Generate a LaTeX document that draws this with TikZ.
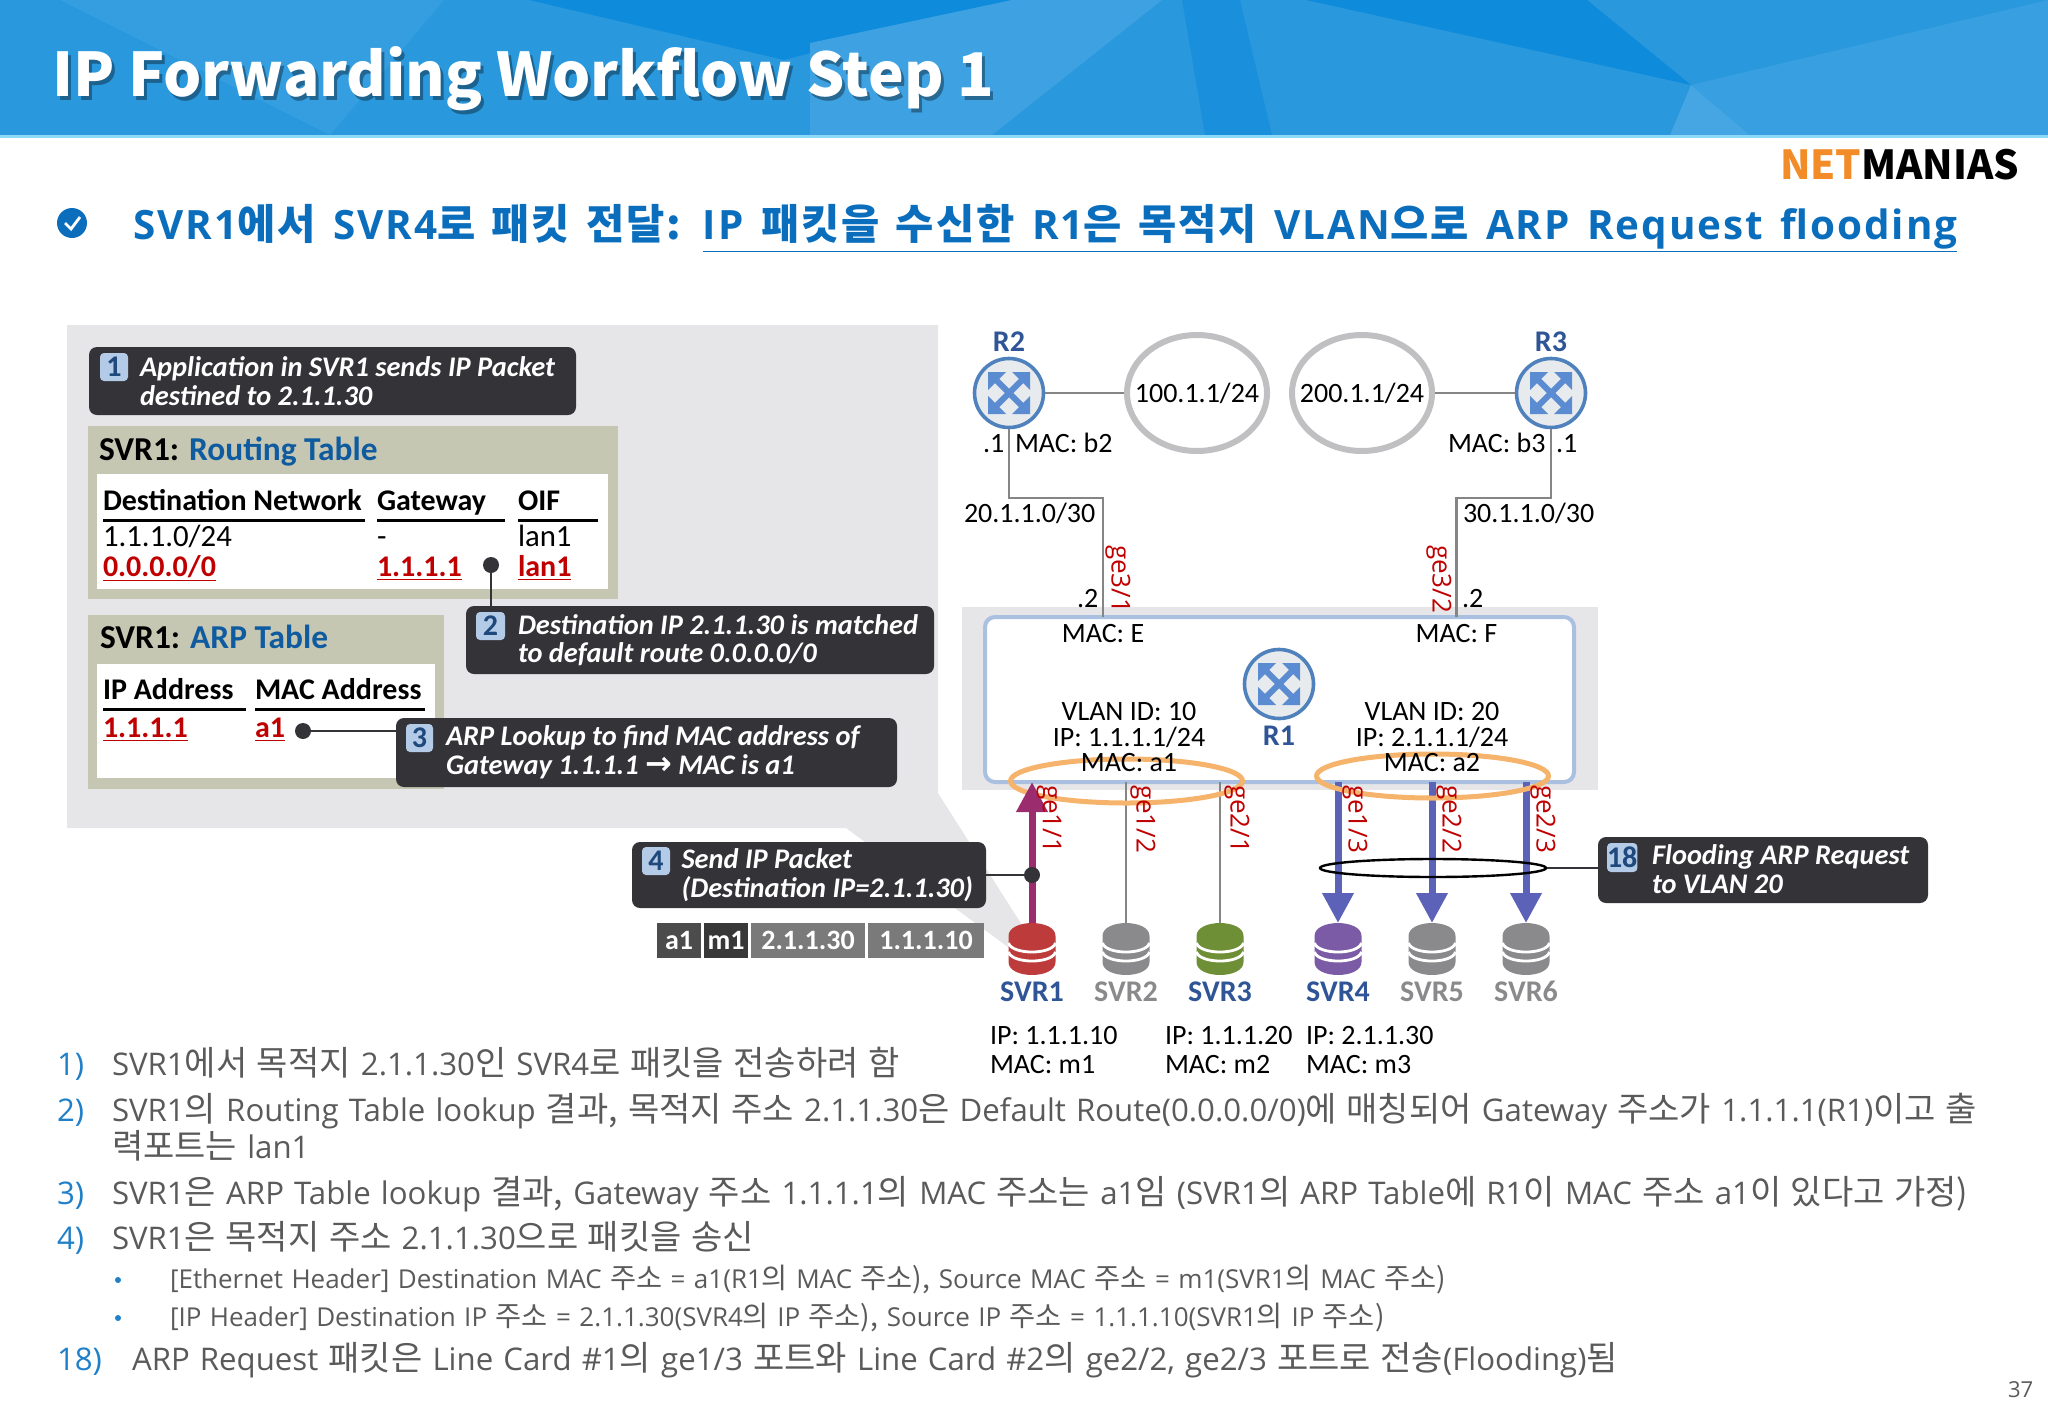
\documentclass[tikz,border=0pt]{standalone}
\usepackage{fontspec}
\setmainfont{Carlito}
\newfontfamily\bodyfont[WordSpace=1.25]{Open Sans}
\newfontfamily\krfont[Scale=1.09, WordSpace=1.25]{Noto Sans CJK KR}
\newfontfamily\titlefont{Noto Sans CJK KR}
\newfontfamily\headfont[LetterSpace=4.8, WordSpace=1.4]{Open Sans}
\newfontfamily\headkrfont[Scale=1.03, LetterSpace=4.8, WordSpace=1.4]{Noto Sans CJK KR}
\newfontfamily\symfont{DejaVu Sans}
\newcommand{\kr}[1]{{\krfont #1}}
\newcommand{\hkr}[1]{{\headkrfont #1}}
\usetikzlibrary{shapes.geometric, arrows.meta, positioning, math, calc}

\definecolor{barBlue}{HTML}{2A98DD}
\definecolor{barDark}{HTML}{0F8BDC}
\definecolor{barLight}{HTML}{46A6E4}
\definecolor{headBlue}{HTML}{0A6EBD}
\definecolor{panelGray}{HTML}{E6E6E8}
\definecolor{tableBack}{HTML}{C6C7B2}
\definecolor{boxDark}{HTML}{333338}
\definecolor{badgeBlue}{HTML}{B4CBE8}
\definecolor{badgeText}{HTML}{1F497D}
\definecolor{titleBlue}{HTML}{0F5BA0}
\definecolor{portRed}{HTML}{C00000}
\definecolor{linkGray}{HTML}{858585}
\definecolor{ringGray}{HTML}{C0C0C2}
\definecolor{ringOrange}{HTML}{F5B36B}
\definecolor{r1Line}{HTML}{A9C0E0}
\definecolor{routerBlue}{HTML}{4F81BD}
\definecolor{routerFill}{HTML}{E8EBEE}
\definecolor{routerMark}{HTML}{5B8BD0}
\definecolor{upPurple}{HTML}{9B2D6F}
\definecolor{downBlue}{HTML}{5B62B8}
\definecolor{labelBlue}{HTML}{2F5597}
\definecolor{svrRed}{HTML}{BE3B3B}
\definecolor{svrGray}{HTML}{8A8A8C}
\definecolor{svrGreen}{HTML}{6E8F35}
\definecolor{svrPurple}{HTML}{7B5BA6}
\definecolor{bodyGray}{HTML}{5A5A5A}
\definecolor{bodyBlue}{HTML}{1F7FC8}
\definecolor{logoOrange}{HTML}{F28C28}

\newcommand{\serverIcon}[2]{
	\begin{scope}[shift={(#1.center)}]
		\fill[#2] (-23.5,-13) .. controls (-23.5,-30.3) and (23.5,-30.3) .. (23.5,-13)
			-- (23.5,13) .. controls (23.5,30.3) and (-23.5,30.3) .. (-23.5,13) -- cycle;
		\draw[white, line width=1.4pt] (-23.5,-6) .. controls (-20,6) and (20,6) .. (23.5,-6);
		\draw[white, line width=1.4pt] (-23.5,3) .. controls (-20,15) and (20,15) .. (23.5,3);
	\end{scope}
}
\newcommand{\routerIcon}[1]{
	\begin{scope}[shift={(#1.center)}]
		\draw[routerMark, line width=3pt] (-14,-14) -- (14,14);
		\draw[routerMark, line width=3pt] (-14,14) -- (14,-14);
		\fill[routerMark] (-21,-21) -- (-3,-21) -- (-21,-3) -- cycle;
		\fill[routerMark] (21,-21) -- (3,-21) -- (21,-3) -- cycle;
		\fill[routerMark] (-21,21) -- (-3,21) -- (-21,3) -- cycle;
		\fill[routerMark] (21,21) -- (3,21) -- (21,3) -- cycle;
	\end{scope}
}

\begin{document}
\begin{tikzpicture}[x=0.5pt, y=-0.5pt]
	\tikzmath{
		\svrGap   = 23.5; %gap between server nodes
		\svrGroup = 35.5; %gap between svr3 and svr4
		\cellGap  = 1.5;  %gap between packet cells
	}
	\tikzstyle{Txt}       = [inner sep=0, outer sep=0, anchor=base west]
	\tikzstyle{Lbl}       = [Txt, font=\fontsize{14}{12.75}\selectfont]
	\tikzstyle{TableHead} = [Txt, font=\fontsize{15}{16}\selectfont\bfseries]
	\tikzstyle{TableRow}  = [Txt, font=\fontsize{15.4}{16}\selectfont]
	\tikzstyle{TableHit}  = [Txt, font=\fontsize{15}{16}\selectfont\bfseries, text=portRed]
	\tikzstyle{TableName} = [Txt, font=\fontsize{16.7}{18}\selectfont\bfseries]
	\tikzstyle{TableRule} = [line width=1.5pt]
	\tikzstyle{CallOut}   = [fill=boxDark, rounded corners=4pt, anchor=north west, inner sep=0, outer sep=0]
	\tikzstyle{Badge}     = [fill=badgeBlue, rounded corners=2pt, anchor=north west, inner sep=0, outer sep=0,
		text=badgeText, font=\fontsize{15}{16}\selectfont\bfseries]
	\tikzstyle{CallText}  = [inner sep=0, outer sep=0, anchor=west, align=left, text=white,
		font=\fontsize{14.2}{14.25}\selectfont\bfseries\itshape]
	\tikzstyle{Dot}       = [circle, fill=boxDark, minimum size=8pt, inner sep=0]
	\tikzstyle{CallLine}  = [boxDark, line width=1.2pt]
	\tikzstyle{Link}      = [linkGray, line width=1.2pt]
	\tikzstyle{Cloud}     = [ellipse, draw=ringGray, line width=3pt, minimum width=70pt, minimum height=58pt, inner sep=0]
	\tikzstyle{CloudText} = [inner sep=0, font=\fontsize{14}{16}\selectfont]
	\tikzstyle{RouterNode}= [circle, draw=routerBlue, fill=routerFill, line width=1.8pt, minimum size=34.5pt, inner sep=0]
	\tikzstyle{RouterName}= [inner sep=0, anchor=base, text=labelBlue, font=\fontsize{15}{16}\selectfont\bfseries]
	\tikzstyle{Ring}      = [ellipse, draw=ringOrange, line width=2.5pt, minimum width=116pt, minimum height=22pt, inner sep=0]
	\tikzstyle{Port}      = [inner sep=0, outer sep=0, anchor=west, rotate=-90, text=portRed,
		font=\bodyfont\fontsize{13}{14}\selectfont]
	\tikzstyle{ServerNode}= [minimum width=23.5pt, minimum height=26pt, inner sep=0, outer sep=0]
	\tikzstyle{ServerName}= [inner sep=0, anchor=base, font=\fontsize{15}{16}\selectfont\bfseries]
	\tikzstyle{UpArrow}   = [upPurple, line width=3.5pt, -{Triangle[width=15pt, length=15pt]}]
	\tikzstyle{DownArrow} = [downBlue, line width=3.5pt, -{Triangle[width=15pt, length=15pt]}]
	\tikzstyle{PortLine}  = [linkGray, line width=1pt]
	\tikzstyle{Cell}      = [minimum height=17.5pt, inner sep=0, outer sep=0, text=white, font=\fontsize{14}{16}\selectfont\bfseries]
	\tikzstyle{Body}      = [Txt, text=bodyGray, font=\bodyfont\fontsize{15.6}{16}\selectfont]
	\tikzstyle{BodySmall} = [Txt, text=bodyGray, font=\bodyfont\fontsize{13}{16}\selectfont]
	\tikzstyle{BodyNum}   = [Txt, text=bodyBlue, font=\bodyfont\fontsize{15.6}{16}\selectfont]
	\tikzstyle{Bullet}    = [circle, fill=bodyBlue, minimum size=3pt, inner sep=0]

	\useasboundingbox (0,0) rectangle (2048,1418);

	%%%%%%%%%%%%%%%%%%%%%%%%%%===---TITLE BAR---===%%%%%%%%%%%%%%%%%%%%%%%%%%
	\fill[barBlue]  (0,0) rectangle (2048,135);
	\fill[barDark]  (529,0) -- (1012,0) -- (784,60) -- cycle;
	\fill[barLight!70!barBlue] (1012,0) -- (1162,0) -- (992,135) -- (810,135) -- (810,43) -- cycle;
	\fill[barDark!60!barBlue] (1182,0) -- (1240,0) -- (1272,135) -- (1205,135) -- cycle;
	\fill[barDark]  (1306,0) -- (1587,0) -- (1691,85) -- cycle;
	\fill[barLight] (1691,85) -- (1670,135) -- (1750,135) -- cycle;
	\fill[barLight!50!barBlue] (1691,85) -- (2048,0) -- (2048,135) -- (1750,135) -- cycle;
	\fill[barLight!40!barBlue] (60,0) -- (444,0) -- (330,135) -- cycle;
	\fill[cyan!45!white] (0,135) rectangle (2048,138);
	\node (titleShadow) [Txt, text=black, opacity=.35, font=\titlefont\fontsize{30.1}{34}\selectfont\bfseries] at (55,100) {IP Forwarding Workflow Step 1};
	\node (title) [Txt, text=white, font=\titlefont\fontsize{30.1}{34}\selectfont\bfseries] at (52,97) {IP Forwarding Workflow Step 1};

	\node (logoNet) [Txt, text=logoOrange, font=\titlefont\fontsize{20}{24}\selectfont\bfseries] at (1780,179) {NET};
	\node (logoRest) [Txt, font=\titlefont\fontsize{20}{24}\selectfont\bfseries, right = 0mm of logoNet.base east, anchor=base west] {MANIAS};

	\node (checkIcon) [circle, fill=headBlue, minimum size=15pt, inner sep=0] at (72,223) {};
	\draw[white, line width=1.4pt] ($(checkIcon)+(-7,0)$) -- ($(checkIcon)+(-1,6)$) -- ($(checkIcon)+(8,-6)$);
	\node (heading) [Txt, text=headBlue, font=\headfont\fontsize{20.2}{22}\selectfont\bfseries] at (133,239)
		{SVR1\hkr{에서} SVR4\hkr{로 패킷 전달:} \underline{IP \hkr{패킷을 수신한} R1\hkr{은 목적지} VLAN\hkr{으로} ARP Request flooding}};

	%%%%%%%%%%%%%%%%%%%%%%%%%%===---LEFT PANEL---===%%%%%%%%%%%%%%%%%%%%%%%%%%
	\fill[panelGray] (67,325) -- (938,325) -- (938,793) -- (1022,925) -- (1012,950) -- (846,828) -- (67,828) -- cycle;

	\node (box1) [CallOut, minimum width=243.5pt, minimum height=34pt] at (89,347) {};
	\node (badge1) [Badge, minimum width=14pt, minimum height=14pt] at (100,353) {1};
	\node (text1) [CallText] at (140,381) {Application in SVR1 sends IP Packet\\destined to 2.1.1.30};

	%routing table
	\node (routeBox) [anchor=north west, fill=tableBack, minimum width=265pt, minimum height=86.5pt, inner sep=0] at (88,426) {};
	\node (routeWhite) [anchor=north west, fill=white, minimum width=255.5pt, minimum height=57.5pt, inner sep=0] at (97,474) {};
	\node (routeName) [TableName] at (99,460) {SVR1: \textcolor{titleBlue}{Routing Table}};
	\node (destHead) [TableHead] at (103,510) {Destination Network};
	\node (gateHead) [TableHead] at (377,510) {Gateway};
	\node (oifHead)  [TableHead] at (518,510) {OIF};
	\coordinate (destRuleL) at (103,520);
	\coordinate (destRuleR) at (365,520);
	\coordinate (gateRuleL) at (377,520);
	\coordinate (gateRuleR) at (505,520);
	\coordinate (oifRuleL)  at (518,520);
	\coordinate (oifRuleR)  at (598,520);
	\draw[TableRule] (destRuleL) -- (destRuleR);
	\draw[TableRule] (gateRuleL) -- (gateRuleR);
	\draw[TableRule] (oifRuleL) -- (oifRuleR);
	\node (destRow1) [TableRow] at (103,546) {1.1.1.0/24};
	\node (gateRow1) [TableRow] at (377,546) {-};
	\node (oifRow1)  [TableRow] at (518,546) {lan1};
	\node (destRow2) [TableHit] at (103,576) {\underline{0.0.0.0/0}};
	\node (gateRow2) [TableHit] at (377,576) {\underline{1.1.1.1}};
	\node (oifRow2)  [TableHit] at (518,576) {\underline{lan1}};

	%arp table
	\node (arpBox) [anchor=north west, fill=tableBack, minimum width=178pt, minimum height=87pt, inner sep=0] at (88,615) {};
	\node (arpWhite) [anchor=north west, fill=white, minimum width=169pt, minimum height=57pt, inner sep=0] at (97,664) {};
	\node (arpName) [TableName] at (100,648) {SVR1: \textcolor{titleBlue}{ARP Table}};
	\node (ipHead)  [TableHead] at (103,699) {IP Address};
	\node (macHead) [TableHead] at (255,699) {MAC Address};
	\coordinate (ipRuleL)  at (103,709);
	\coordinate (ipRuleR)  at (246,709);
	\coordinate (macRuleL) at (255,709);
	\coordinate (macRuleR) at (425,709);
	\draw[TableRule] (ipRuleL) -- (ipRuleR);
	\draw[TableRule] (macRuleL) -- (macRuleR);
	\node (ipRow)  [TableHit] at (103,737) {\underline{1.1.1.1}};
	\node (macRow) [TableHit] at (255,737) {\underline{a1}};

	\node (box2) [CallOut, minimum width=234pt, minimum height=34pt] at (466,606) {};
	\node (badge2) [Badge, minimum width=14.5pt, minimum height=14pt] at (476,612) {2};
	\node (text2) [CallText] at (518,640) {Destination IP 2.1.1.30 is matched\\to default route 0.0.0.0/0};
	\node (dot2) [Dot] at (491,565) {};
	\draw[CallLine] (dot2) -- (dot2 |- box2.north);

	\node (box3) [CallOut, minimum width=250.5pt, minimum height=34.5pt] at (396,718) {};
	\node (badge3) [Badge, minimum width=13.5pt, minimum height=14pt] at (406,724) {3};
	\node (text3) [CallText] at (446,752) {ARP Lookup to find MAC address of\\Gateway 1.1.1.1 {\symfont\fontsize{16}{14}\selectfont →} MAC is a1};
	\node (dot3) [Dot] at (303,731) {};
	\draw[CallLine] (dot3) -- (dot3 -| box3.west);

	%%%%%%%%%%%%%%%%%%%%%%%%%%===---ROUTERS---===%%%%%%%%%%%%%%%%%%%%%%%%%%
	\fill[panelGray] (962,607) rectangle (1598,790);
	\node (r1Box) [anchor=north west, draw=r1Line, fill=white, line width=2pt, rounded corners=5pt, outer sep=0,
		minimum width=294.5pt, minimum height=82.5pt, inner sep=0] at (985,617) {};

	\node (r2) [RouterNode] at (1009,393) {};
	\node (r3) [RouterNode] at (1551,393) {};
	\node (r1) [RouterNode] at (1279,684) {};
	\routerIcon{r2}
	\routerIcon{r3}
	\routerIcon{r1}
	\node (r2Name) [RouterName, above = 2.7pt of r2.north, anchor=base] {R2};
	\node (r3Name) [RouterName, above = 2.7pt of r3.north, anchor=base] {R3};
	\node (r1Name) [RouterName] at (1279,745.5) {R1};

	\node (net100) [Cloud] at (1197,393) {};
	\node (net200) [Cloud] at (1362,393) {};
	\node (net100Text) [CloudText] at (net100) {100.1.1/24};
	\node (net200Text) [CloudText] at (net200) {200.1.1/24};
	\draw[Link] (r2) -- (net100);
	\draw[Link] (net200) -- (r3);

	\coordinate (elbowE) at (1103,498);
	\coordinate (elbowF) at (1456.5,498);
	\draw[Link] (r2.south) |- (elbowE) -- (elbowE |- r1Box.north);
	\draw[Link] (r3.south) |- (elbowF) -- (elbowF |- r1Box.north);

	\node (r2Dot)  [Lbl] at (983,452)  {.1};
	\node (r2Mac)  [Lbl] at (1015,452) {MAC: b2};
	\node (r3Mac)  [Lbl] at (1448,452) {MAC: b3};
	\node (r3Dot)  [Lbl] at (1556,452) {.1};
	\node (netE)   [Lbl] at (964,522)  {20.1.1.0/30};
	\node (netF)   [Lbl] at (1463,522) {30.1.1.0/30};
	\node (dotE)   [Lbl] at (1077,607) {.2};
	\node (dotF)   [Lbl] at (1462,607) {.2};
	\node (portE)  [Port] at (1118,545) {ge3/1};
	\node (portF)  [Port] at (1439,545) {ge3/2};
	\node (macE)   [Lbl, anchor=base] at (1103,642)   {MAC: E};
	\node (macF)   [Lbl, anchor=base] at (1456.5,642) {MAC: F};

	%%%%%%%%%%%%%%%%%%%%%%%%%%===---SERVERS---===%%%%%%%%%%%%%%%%%%%%%%%%%%
	\node (svr1) [ServerNode] at (1032,949) {};
	\node (svr2) [ServerNode, right = \svrGap pt of svr1] {};
	\node (svr3) [ServerNode, right = \svrGap pt of svr2] {};
	\node (svr4) [ServerNode, right = \svrGroup pt of svr3] {};
	\node (svr5) [ServerNode, right = \svrGap pt of svr4] {};
	\node (svr6) [ServerNode, right = \svrGap pt of svr5] {};
	\serverIcon{svr1}{svrRed}
	\serverIcon{svr2}{svrGray}
	\serverIcon{svr3}{svrGreen}
	\serverIcon{svr4}{svrPurple}
	\serverIcon{svr5}{svrGray}
	\serverIcon{svr6}{svrGray}
	\node (svr1Name) [ServerName, text=labelBlue] at (1032,1001) {SVR1};
	\node (svr2Name) [ServerName, text=svrGray]   at (1126,1001) {SVR2};
	\node (svr3Name) [ServerName, text=labelBlue] at (1220,1001) {SVR3};
	\node (svr4Name) [ServerName, text=labelBlue] at (1338,1001) {SVR4};
	\node (svr5Name) [ServerName, text=svrGray]   at (1432,1001) {SVR5};
	\node (svr6Name) [ServerName, text=svrGray]   at (1526,1001) {SVR6};

	\draw[PortLine]  (svr2.north) -- (svr2.north |- r1Box.south);
	\draw[PortLine]  (svr3.north) -- (svr3.north |- r1Box.south);
	\draw[DownArrow] (svr4.north |- r1Box.south) -- (svr4.north);
	\draw[DownArrow] (svr5.north |- r1Box.south) -- (svr5.north);
	\draw[DownArrow] (svr6.north |- r1Box.south) -- (svr6.north);
	\node (ring10) [Ring] at (1126.5,781) {};
	\node (ring20) [Ring] at (1432.5,776) {};
	\draw[UpArrow]   (svr1.north) -- (svr1.north |- r1Box.south);
	\node (vlan10) [Lbl, anchor=center, align=center] at (1129,737.5) {VLAN ID: 10\\IP: 1.1.1.1/24\\MAC: a1};
	\node (vlan20) [Lbl, anchor=center, align=center] at (1432,737.5) {VLAN ID: 20\\IP: 2.1.1.1/24\\MAC: a2};

	\node (port11) [Port] at (1049,785) {ge1/1};
	\node (port12) [Port] at (1143,785) {ge1/2};
	\node (port21) [Port] at (1237,785) {ge2/1};
	\node (port13) [Port] at (1355,785) {ge1/3};
	\node (port22) [Port] at (1449,785) {ge2/2};
	\node (port23) [Port] at (1543,785) {ge2/3};

	\node (box4) [CallOut, minimum width=177pt, minimum height=33pt] at (632,842) {};
	\node (badge4) [Badge, minimum width=14pt, minimum height=14pt] at (642,847) {4};
	\node (text4) [CallText] at (681.5,875) {Send IP Packet\\(Destination IP=2.1.1.30)};
	\node (dot4) [Dot] at (1032,875) {};
	\draw[CallLine] (box4.east) -- (dot4);

	\node (floodRing) [ellipse, draw=black, line width=1.2pt, minimum width=113pt, minimum height=9pt, inner sep=0] at (1433,868) {};
	\node (box18) [CallOut, minimum width=165pt, minimum height=33pt] at (1598,837) {};
	\node (badge18) [Badge, minimum width=15pt, minimum height=14.5pt] at (1607,843) {18};
	\node (text18) [CallText] at (1652,869) {Flooding ARP Request\\to VLAN 20};
	\draw[CallLine] (floodRing.east) -- (floodRing.east -| box18.west);

	\node (cellA) [Cell, minimum width=22pt, fill=black!70] at (679,940.5) {a1};
	\node (cellB) [Cell, minimum width=22pt, fill=black!78, right = \cellGap pt of cellA] {m1};
	\node (cellC) [Cell, minimum width=57pt, fill=black!52, right = \cellGap pt of cellB] {2.1.1.30};
	\node (cellD) [Cell, minimum width=58pt, fill=black!52, right = \cellGap pt of cellC] {1.1.1.10};

	\node (ip1)  [Lbl] at (990,1044)  {IP: 1.1.1.10};
	\node (mac1) [Lbl] at (990,1073)  {MAC: m1};
	\node (ip2)  [Lbl] at (1165,1044) {IP: 1.1.1.20};
	\node (mac2) [Lbl] at (1165,1073) {MAC: m2};
	\node (ip3)  [Lbl] at (1306,1044) {IP: 2.1.1.30};
	\node (mac3) [Lbl] at (1306,1073) {MAC: m3};

	%%%%%%%%%%%%%%%%%%%%%%%%%%===---BODY TEXT---===%%%%%%%%%%%%%%%%%%%%%%%%%%
	\node (num1)  [BodyNum] at (57,1075) {1)};
	\node (line1) [Body] at (112,1075) {SVR1\kr{에서 목적지} 2.1.1.30\kr{인} SVR4\kr{로 패킷을 전송하려 함}};
	\node (num2)  [BodyNum] at (57,1121) {2)};
	\node (line2) [Body] at (112,1121) {SVR1\kr{의} Routing Table lookup \kr{결과,} \kr{목적지 주소} 2.1.1.30\kr{은} Default Route(0.0.0.0/0)\kr{에 매칭되어} Gateway \kr{주소가} 1.1.1.1(R1)\kr{이고 출}};
	\node (line2b) [Body] at (112,1158) {\kr{력포트는} lan1};
	\node (num3)  [BodyNum] at (57,1204) {3)};
	\node (line3) [Body] at (112,1204) {SVR1\kr{은} ARP Table lookup \kr{결과,} Gateway \kr{주소} 1.1.1.1\kr{의} MAC \kr{주소는} a1\kr{임} (SVR1\kr{의} ARP Table\kr{에} R1\kr{이} MAC \kr{주소} a1\kr{이 있다고 가정)}};
	\node (num4)  [BodyNum] at (57,1249) {4)};
	\node (line4) [Body] at (112,1249) {SVR1\kr{은 목적지 주소} 2.1.1.30\kr{으로 패킷을 송신}};
	\node (bullet1) [Bullet] at (118,1280) {};
	\node (line5) [BodySmall] at (170,1288) {[Ethernet Header] Destination MAC \kr{주소} = a1(R1\kr{의} MAC \kr{주소),} Source MAC \kr{주소} = m1(SVR1\kr{의} MAC \kr{주소)}};
	\node (bullet2) [Bullet] at (118,1318) {};
	\node (line6) [BodySmall] at (170,1326) {[IP Header] Destination IP \kr{주소} = 2.1.1.30(SVR4\kr{의} IP \kr{주소),} Source IP \kr{주소} = 1.1.1.10(SVR1\kr{의} IP \kr{주소)}};
	\node (num18) [BodyNum] at (57,1370) {18)};
	\node (line7) [Body] at (132,1370) {ARP Request \kr{패킷은} Line Card \#1\kr{의} ge1/3 \kr{포트와} Line Card \#2\kr{의} ge2/2, ge2/3 \kr{포트로 전송}(Flooding)\kr{됨}};
	\node (pageNum) [Txt, text=bodyGray, font=\bodyfont\fontsize{11}{13}\selectfont] at (2008,1397) {37};
\end{tikzpicture}
\end{document}
